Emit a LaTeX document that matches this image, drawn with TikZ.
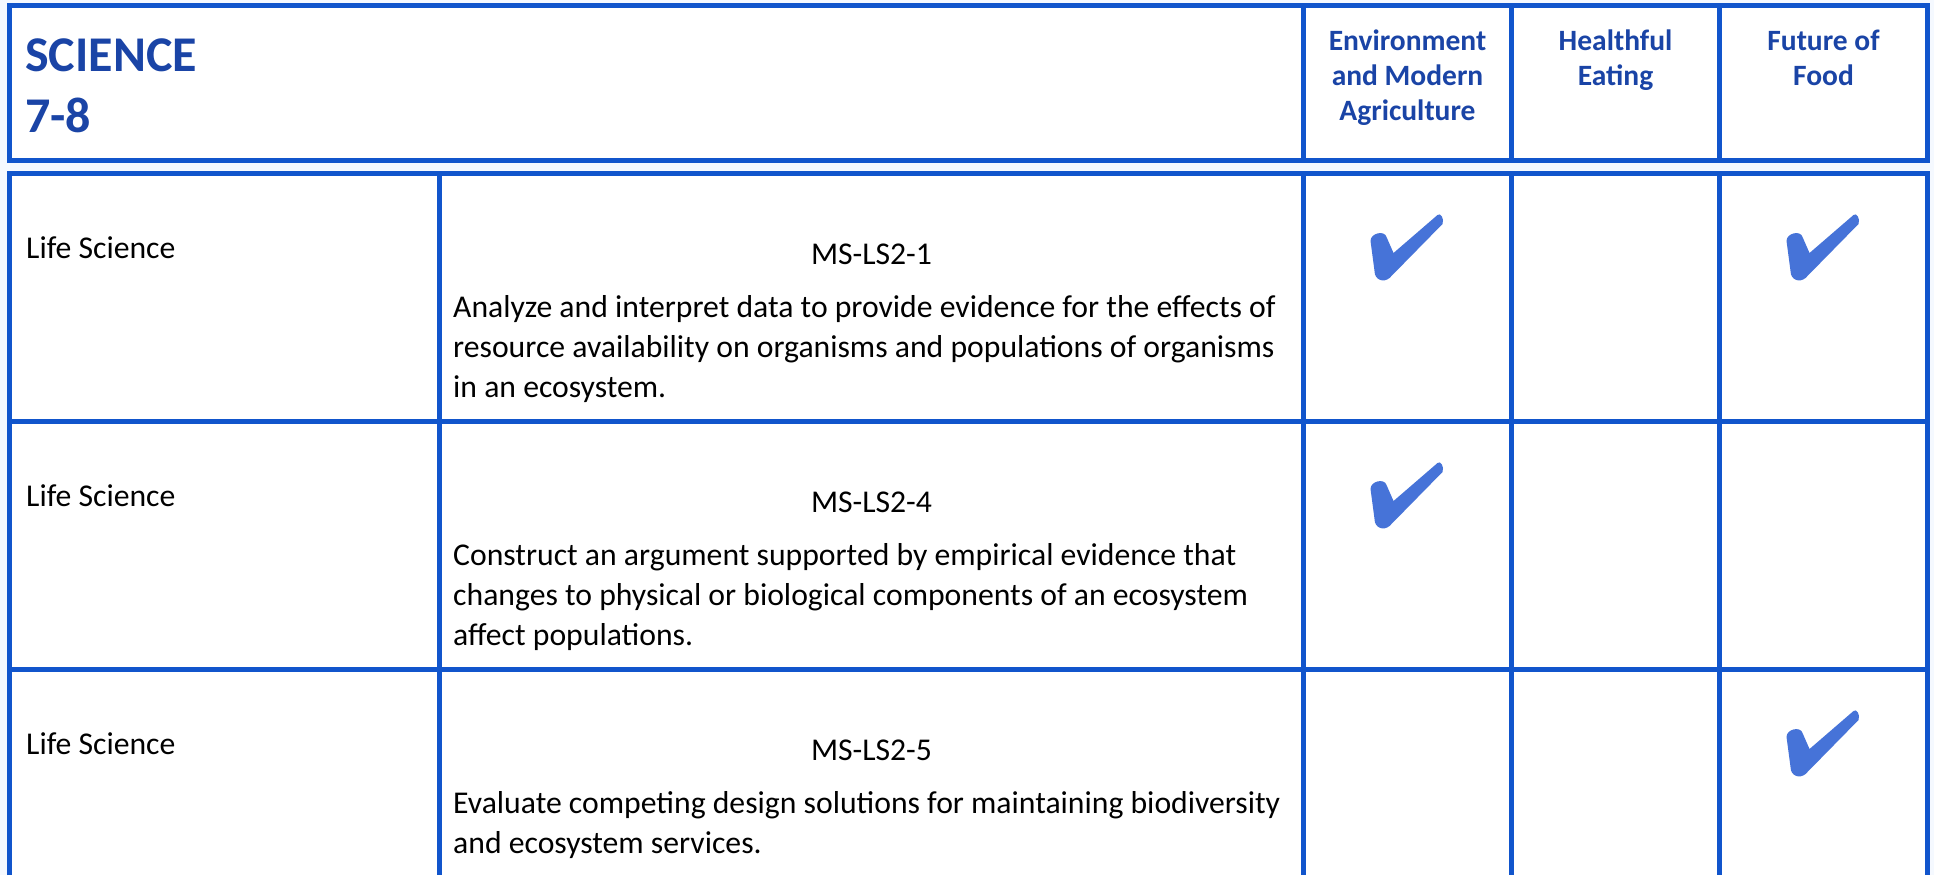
\documentclass[tikz,border=0pt]{standalone}
\usepackage{fontspec}
\setmainfont{Carlito}
\definecolor{gridblue}{HTML}{1155CC}
\definecolor{headblue}{HTML}{1A44A6}
\definecolor{tickblue}{HTML}{4673D8}
\definecolor{pageblue}{HTML}{F5F9FF}
\tikzset{
  tableline/.style={draw=gridblue,line width=5pt},
  title/.style={font=\fontsize{50}{61}\selectfont\bfseries,text=headblue,inner sep=0pt,anchor=base west},
  head/.style={font=\fontsize{29.5}{35}\selectfont\bfseries,text=headblue,align=center,inner sep=0pt,anchor=base},
  body/.style={font=\fontsize{31.7}{40}\selectfont,inner sep=0pt,anchor=base west,align=left},
  code/.style={font=\fontsize{31.7}{40}\selectfont,inner sep=0pt,anchor=base},
  tickmark/.pic={
    \fill[tickblue] (-14,6) -- (30,-32) .. controls (33,-35) and (37,-28) .. (35,-23)
      -- (-18,31) .. controls (-24,36) and (-33,33) .. (-33,24)
      -- (-37,-6) .. controls (-37,-14) and (-23,-17) .. (-21,-10) -- cycle;
  }
}
\begin{document}
\begin{tikzpicture}[x=1pt,y=-1pt]
  \fill[pageblue] (0,0) rectangle (1934,875);
  \useasboundingbox (0,0) rectangle (1934,875);
  % header
  \draw[tableline,fill=white] (9.5,5.5) rectangle (1927.5,160);
  \foreach \x in {1303.5,1511.5,1719.5}
    \draw[tableline] (\x,5.5) -- (\x,160);
  \node[title] (sci) at (25,71) {SCIENCE};
  \node[title] (grade) at (25,132) {7-8};
  % multi-line nodes sit on their last line
  \node[head] (env) at (1407.5,120) {Environment\\and Modern\\Agriculture};
  \node[head] (heal) at (1615.5,85) {Healthful\\Eating};
  \node[head] (fut) at (1823.5,85) {Future of\\Food};
  % body
  \fill[white] (9.5,173.5) rectangle (1927.5,875);
  \draw[tableline] (9.5,875) -- (9.5,173.5) -- (1927.5,173.5) -- (1927.5,875);
  \foreach \y in {421.5,669.5}
    \draw[tableline] (9.5,\y) -- (1927.5,\y);
  \foreach \x in {439.5,1303.5,1511.5,1719.5}
    \draw[tableline] (\x,173.5) -- (\x,875);
  % rows
  \node[body] (life1) at (26,258) {Life Science};
  \node[code] (ls21) at (871.5,264) {MS-LS2-1};
  \node[body] (desc1) at (453,397) {Analyze and interpret data to provide evidence for the effects of\\resource availability on organisms and populations of organisms\\in an ecosystem.};
  \node[body] (life2) at (26,506) {Life Science};
  \node[code] (ls24) at (871.5,512) {MS-LS2-4};
  \node[body] (desc2) at (453,645) {Construct an argument supported by empirical evidence that\\changes to physical or biological components of an ecosystem\\affect populations.};
  \node[body] (life3) at (26,754) {Life Science};
  \node[code] (ls25) at (871.5,760) {MS-LS2-5};
  \node[body] (desc3) at (453,853) {Evaluate competing design solutions for maintaining biodiversity\\and ecosystem services.};
  % ticks
  \pic at (1407.5,247) {tickmark};
  \pic at (1823.5,247) {tickmark};
  \pic at (1407.5,495) {tickmark};
  \pic at (1823.5,743) {tickmark};
\end{tikzpicture}
\end{document}
